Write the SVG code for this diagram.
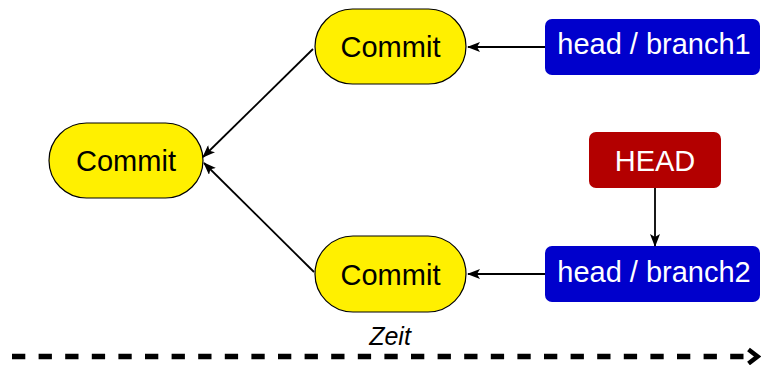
<svg xmlns="http://www.w3.org/2000/svg" width="761" height="365" viewBox="0 0 761 365">
<defs>
<style>
.commit{fill:#FFF000;stroke:#000;stroke-width:1.2}
.ctext{font-family:"Liberation Sans",Arial,sans-serif;font-size:29px;fill:#000;text-anchor:middle}
.wtext{font-family:"Liberation Sans",Arial,sans-serif;font-size:29px;fill:#fff;text-anchor:middle}
.branch{fill:#0000CC}
.headbox{fill:#B30000}
.conn{stroke:#000;stroke-width:1.8;fill:none;marker-end:url(#ah)}
</style>
<marker id="ah" viewBox="0 0 13 10" refX="12" refY="5" markerWidth="13" markerHeight="10" markerUnits="userSpaceOnUse" orient="auto">
<path d="M0,0 L13,5 L0,10 L3,5 Z" fill="#000"/>
</marker>
</defs>
<g id="commit-left">
<rect class="commit" x="49" y="123" width="154" height="75" rx="37.5"/>
<text class="ctext" x="126" y="171">Commit</text>
</g>
<g id="commit-top">
<rect class="commit" x="315" y="9" width="151" height="75" rx="37.5"/>
<text class="ctext" x="390.5" y="57">Commit</text>
</g>
<g id="commit-bottom">
<rect class="commit" x="315" y="236" width="151" height="76" rx="38"/>
<text class="ctext" x="390.5" y="284.5">Commit</text>
</g>
<g id="branch1">
<rect class="branch" x="545" y="19" width="215" height="56" rx="7"/>
<text class="wtext" x="654" y="54">head / branch1</text>
</g>
<g id="HEAD">
<rect class="headbox" x="589" y="132" width="132" height="56" rx="7"/>
<text class="wtext" x="655" y="171">HEAD</text>
</g>
<g id="branch2">
<rect class="branch" x="545" y="246" width="215" height="56" rx="7"/>
<text class="wtext" x="654" y="281.5">head / branch2</text>
</g>
<g id="connectors">
<line class="conn" x1="313" y1="49" x2="203" y2="157"/>
<line class="conn" x1="314" y1="272" x2="204" y2="163"/>
<line class="conn" x1="545" y1="47" x2="468" y2="47"/>
<line class="conn" x1="545" y1="274" x2="468" y2="274"/>
<line class="conn" x1="655" y1="188" x2="655" y2="246"/>
</g>
<g id="timeline">
<line x1="12" y1="356.5" x2="745" y2="356.5" stroke="#000" stroke-width="5.5" stroke-dasharray="13.3 13.3"/>
<polyline points="748.5,349.5 757.5,356.5 748.5,363.5" fill="none" stroke="#000" stroke-width="4.5" stroke-linejoin="miter"/>
<text x="390" y="345" font-family="Liberation Sans,Arial,sans-serif" font-size="25" font-style="italic" text-anchor="middle" fill="#000">Zeit</text>
</g>
</svg>
